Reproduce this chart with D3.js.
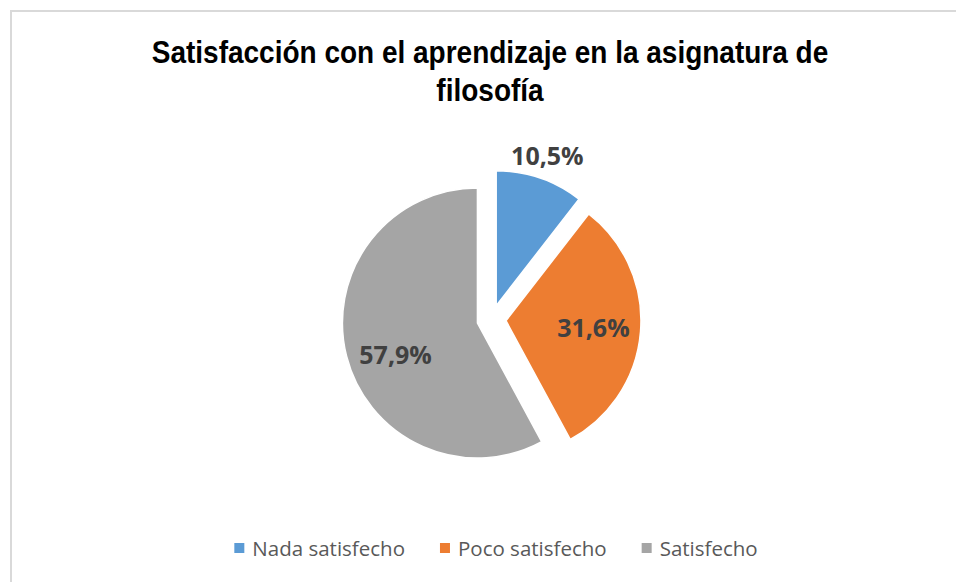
<!DOCTYPE html>
<html>
<head>
<meta charset="utf-8">
<script src="https://cdn.jsdelivr.net/npm/d3@7"></script>
<style>
  html, body { margin: 0; padding: 0; background: #fff; }
  svg { display: block; }
</style>
</head>
<body>
<div id="chart"></div>
<script>
const categories = ["Nada satisfecho", "Poco satisfecho", "Satisfecho"];
const values = [10.5, 31.6, 57.9];
const labels = ["10,5%", "31,6%", "57,9%"];
const colors = ["#5B9BD5", "#ED7D31", "#A5A5A5"];
const titleLines = ["Satisfacción con el aprendizaje en la asignatura de", "filosofía"];

const width = 956, height = 582;
const cx = 491.5, cy = 319.5, radius = 135, explode = 14.5;

const svg = d3.select("#chart")
  .append("svg")
  .attr("width", width)
  .attr("height", height);

// marco del gráfico (se sale por la derecha y abajo)
svg.append("rect")
  .attr("x", 11).attr("y", 11)
  .attr("width", 1000).attr("height", 1000)
  .attr("fill", "#fff")
  .attr("stroke", "#d9d9d9")
  .attr("stroke-width", 2);

// título, fuente algo comprimida
svg.append("g")
  .attr("transform", "translate(490,0) scale(0.875,1)")
  .selectAll("text")
  .data(titleLines)
  .join("text")
  .attr("x", 0)
  .attr("y", (d, i) => 63 + i * 38)
  .attr("text-anchor", "middle")
  .style("font-family", "'Liberation Sans', Arial, sans-serif")
  .style("font-weight", "bold")
  .style("font-size", "32px")
  .style("fill", "#000")
  .text(d => d);

const pie = d3.pie().sort(null).value(d => d);
const arcs = pie(values);
const arc = d3.arc().innerRadius(0).outerRadius(radius);

const g = svg.append("g").attr("transform", `translate(${cx},${cy})`);

const offset = d => {
  const a = (d.startAngle + d.endAngle) / 2;
  return [Math.sin(a) * explode, -Math.cos(a) * explode];
};

g.selectAll("path")
  .data(arcs)
  .join("path")
  .attr("transform", d => `translate(${offset(d)})`)
  .attr("d", arc)
  .attr("fill", (d, i) => colors[i])
  .attr("stroke", "#fff")
  .attr("stroke-width", 1.5);

// etiquetas: las porciones pequeñas van fuera
g.selectAll("text")
  .data(arcs)
  .join("text")
  .attr("transform", d => {
    const a = (d.startAngle + d.endAngle) / 2 - (d.data > 50 ? 0.12 : 0);
    const k = d.data < 15 ? 1.17 : 0.65;
    const [ox, oy] = offset(d);
    return `translate(${ox + Math.sin(a) * radius * k},${oy - Math.cos(a) * radius * k})`;
  })
  .attr("dy", "0.36em")
  .attr("text-anchor", "middle")
  .style("font-family", "'Open Sans', sans-serif")
  .style("font-weight", "bold")
  .style("font-size", "25px")
  .style("fill", "#404040")
  .text((d, i) => labels[i]);

// leyenda
const legend = svg.append("g");
const items = legend.selectAll("g")
  .data(categories)
  .join("g");

items.append("rect")
  .attr("y", 543)
  .attr("width", 10)
  .attr("height", 10)
  .attr("fill", (d, i) => colors[i]);

items.append("text")
  .attr("x", 18)
  .attr("y", 555.5)
  .style("font-family", "'Open Sans', sans-serif")
  .style("font-size", "20.5px")
  .style("fill", "#595959")
  .text(d => d);

let x = 0;
items.each(function () {
  const w = this.querySelector("text").getComputedTextLength() + 18;
  d3.select(this).attr("transform", `translate(${x},0)`);
  x += w + 35;
});
const total = x - 35;
legend.attr("transform", `translate(${496 - total / 2},0)`);
</script>
</body>
</html>
